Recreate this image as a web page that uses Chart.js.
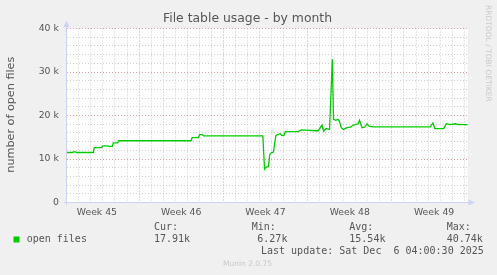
<!DOCTYPE html>
<html>
<head>
<meta charset="utf-8">
<title>File table usage - by month</title>
<script src="https://cdn.jsdelivr.net/npm/chart.js@4/dist/chart.umd.min.js"></script>
<style>
  html, body { margin: 0; padding: 0; background: #f0f0f0; }
  #wrap { width: 497px; height: 275px; }
</style>
</head>
<body>
<div id="wrap"><canvas id="files" width="497" height="275"></canvas></div>
<script>
// days relative to the start of week 46 (first red grid line)
let dayOffsets = [
  -6.0, -5.57, -5.32, -5.15, -3.80, -3.72, -3.10, -3.03, -2.60, -2.49,
  -2.22, -2.14, -1.77, -1.70, 4.32, 4.41, 4.93, 5.03, 5.24, 5.36,
  10.28, 10.42, 10.52, 10.75, 10.85, 10.97, 11.16, 11.36, 11.72, 11.86,
  12.05, 12.14, 13.24, 13.47, 14.63, 14.88, 15.19, 15.32, 15.54, 15.82,
  16.05, 16.15, 16.35, 16.52, 16.63, 16.79, 16.98, 17.27, 17.54, 17.81,
  18.18, 18.31, 18.51, 18.73, 18.93, 19.12, 19.48, 24.19, 24.40, 24.56,
  25.30, 25.52, 25.85, 26.27, 26.52, 27.3
]
let openFiles = [
  11500, 11500, 11700, 11500, 11500, 12600, 12600, 13000, 13000, 12900,
  12900, 13700, 13700, 14200, 14200, 14900, 14900, 15600, 15600, 15300,
  15300, 7700, 8100, 8300, 11000, 11400, 11600, 15400, 15800, 15400,
  15500, 16300, 16300, 16700, 16500, 16500, 17800, 16400, 17000, 16800,
  32900, 19100, 18900, 19100, 18700, 17200, 16800, 17200, 17300, 17800,
  18100, 18900, 17200, 17300, 18100, 17500, 17400, 17400, 18300, 17000,
  17000, 18100, 17900, 18100, 17900, 17900
]
let weekLabels = ['Week 45', 'Week 46', 'Week 47', 'Week 48', 'Week 49']
let yTickValues = [0, 10000, 20000, 30000, 40000]
let yTickLabels = ['0', '10 k', '20 k', '30 k', '40 k']
let statNames = ['Cur:', 'Min:', 'Avg:', 'Max:']
let statValues = ['17.91k', '6.27k', '15.54k', '40.74k']

const xMin = -6
const xMax = 27.3
const weekMids = weekLabels.map((l, i) => 7 * i - 3.5)

const sans = 'DejaVu Sans'
const mono = 'DejaVu Sans Mono'
const fontColor = '#555555'
const axisColor = '#cdd3f6'
const minorGrid = '#cfcfcf'
const majorGrid = '#e0a0a0'

const muninText = {
  id: 'muninText',
  beforeDraw (chart) {
    const { ctx, chartArea: a } = chart
    ctx.save()
    ctx.fillStyle = '#ffffff'
    ctx.fillRect(a.left, a.top, a.right - a.left, a.bottom - a.top)
    ctx.restore()
  },
  afterDraw (chart) {
    const { ctx, chartArea: a } = chart
    ctx.save()

    // axes with arrows
    ctx.strokeStyle = axisColor
    ctx.fillStyle = axisColor
    ctx.lineWidth = 1
    ctx.beginPath()
    ctx.moveTo(66.5, 205)
    ctx.lineTo(66.5, 24)
    ctx.moveTo(64, 202.5)
    ctx.lineTo(470, 202.5)
    ctx.stroke()
    ctx.beginPath()
    ctx.moveTo(66.5, 20.5)
    ctx.lineTo(63.5, 27)
    ctx.lineTo(69.5, 27)
    ctx.closePath()
    ctx.fill()
    ctx.beginPath()
    ctx.moveTo(475, 202.5)
    ctx.lineTo(468.5, 199.5)
    ctx.lineTo(468.5, 205.5)
    ctx.closePath()
    ctx.fill()

    // title
    ctx.fillStyle = fontColor
    ctx.textBaseline = 'middle'
    ctx.textAlign = 'center'
    ctx.font = '12.4px "' + sans + '"'
    ctx.fillText('File table usage - by month', 247.5, 19)

    // y axis title
    ctx.save()
    ctx.translate(11.5, 114.7)
    ctx.rotate(-Math.PI / 2)
    ctx.font = '11.2px "' + sans + '"'
    ctx.fillText('number of open files', 0, 0)
    ctx.restore()

    // legend
    ctx.fillStyle = '#00cc00'
    ctx.fillRect(13.5, 236.5, 6, 6)
    ctx.fillStyle = fontColor
    ctx.textAlign = 'left'
    ctx.font = '10px "' + mono + '"'
    ctx.fillText('open files', 26.7, 239.3)
    const nameX = [154, 251.7, 349.3, 446.7]
    const valX = [154, 257.3, 349.3, 446.7]
    statNames.forEach((n, i) => {
      ctx.fillText(n, nameX[i], 227.7)
      ctx.fillText(statValues[i], valX[i], 239.3)
    })
    ctx.fillText('Last update: Sat Dec  6 04:00:30 2025', 261, 251.7)

    // credits
    ctx.fillStyle = '#c9c9c9'
    ctx.textAlign = 'center'
    ctx.font = '7.5px "' + sans + '"'
    ctx.fillText('Munin 2.0.75', 247.5, 264.3)
    ctx.save()
    ctx.translate(487.7, 53.3)
    ctx.rotate(Math.PI / 2)
    ctx.fillText('RRDTOOL / TOBI OETIKER', 0, 0)
    ctx.restore()

    ctx.restore()
  }
}

let xTicks = []
for (let d = -6; d <= 27; d++) xTicks.push(d)
xTicks = xTicks.concat(weekMids).sort((p, q) => p - q)
let yTicks = []
for (let v = 0; v <= 40000; v += 2000) yTicks.push(v)

let filesElement = document.getElementById('files').getContext('2d')
let filesChart = new Chart(filesElement, {
  type: 'line',
  data: {
    datasets: [
      {
        label: 'open files',
        data: dayOffsets.map((d, i) => ({ x: d, y: openFiles[i] })),
        borderColor: '#00cc00',
        borderWidth: 1.3,
        pointRadius: 0,
        tension: 0,
        fill: false
      }
    ]
  },
  plugins: [muninText],
  options: {
    responsive: false,
    animation: false,
    events: [],
    layout: {
      padding: { left: 0, top: 28.5, right: 29.2, bottom: 52.5 }
    },
    plugins: {
      legend: { display: false },
      title: { display: false },
      tooltip: { enabled: false }
    },
    scales: {
      x: {
        type: 'linear',
        min: xMin,
        max: xMax,
        afterFit: s => { s.height = 20 },
        afterBuildTicks: s => { s.ticks = xTicks.map(v => ({ value: v })) },
        border: { display: false, dash: [1, 2] },
        grid: {
          drawTicks: false,
          lineWidth: 1,
          color: c => {
            const v = c.tick.value
            if (!Number.isInteger(v) || v === xMin) return 'rgba(0,0,0,0)'
            return v % 7 === 0 ? majorGrid : minorGrid
          }
        },
        ticks: {
          autoSkip: false,
          maxRotation: 0,
          minRotation: 0,
          padding: 5,
          color: fontColor,
          font: { family: sans, size: 9.3 },
          callback: v => {
            const i = weekMids.indexOf(v)
            return i >= 0 ? weekLabels[i] : ''
          }
        }
      },
      y: {
        min: 0,
        max: 40000,
        afterFit: s => { s.width = 66.8 },
        afterBuildTicks: s => { s.ticks = yTicks.map(v => ({ value: v })) },
        border: { display: false, dash: [1, 2] },
        grid: {
          drawTicks: false,
          lineWidth: 1,
          color: c => {
            const v = c.tick.value
            if (v === 0) return 'rgba(0,0,0,0)'
            return v % 10000 === 0 ? majorGrid : minorGrid
          }
        },
        ticks: {
          autoSkip: false,
          padding: 8,
          color: fontColor,
          font: { family: sans, size: 9.3 },
          callback: v => {
            const i = yTickValues.indexOf(v)
            return i >= 0 ? yTickLabels[i] : ''
          }
        }
      }
    }
  }
})
</script>
</body>
</html>
